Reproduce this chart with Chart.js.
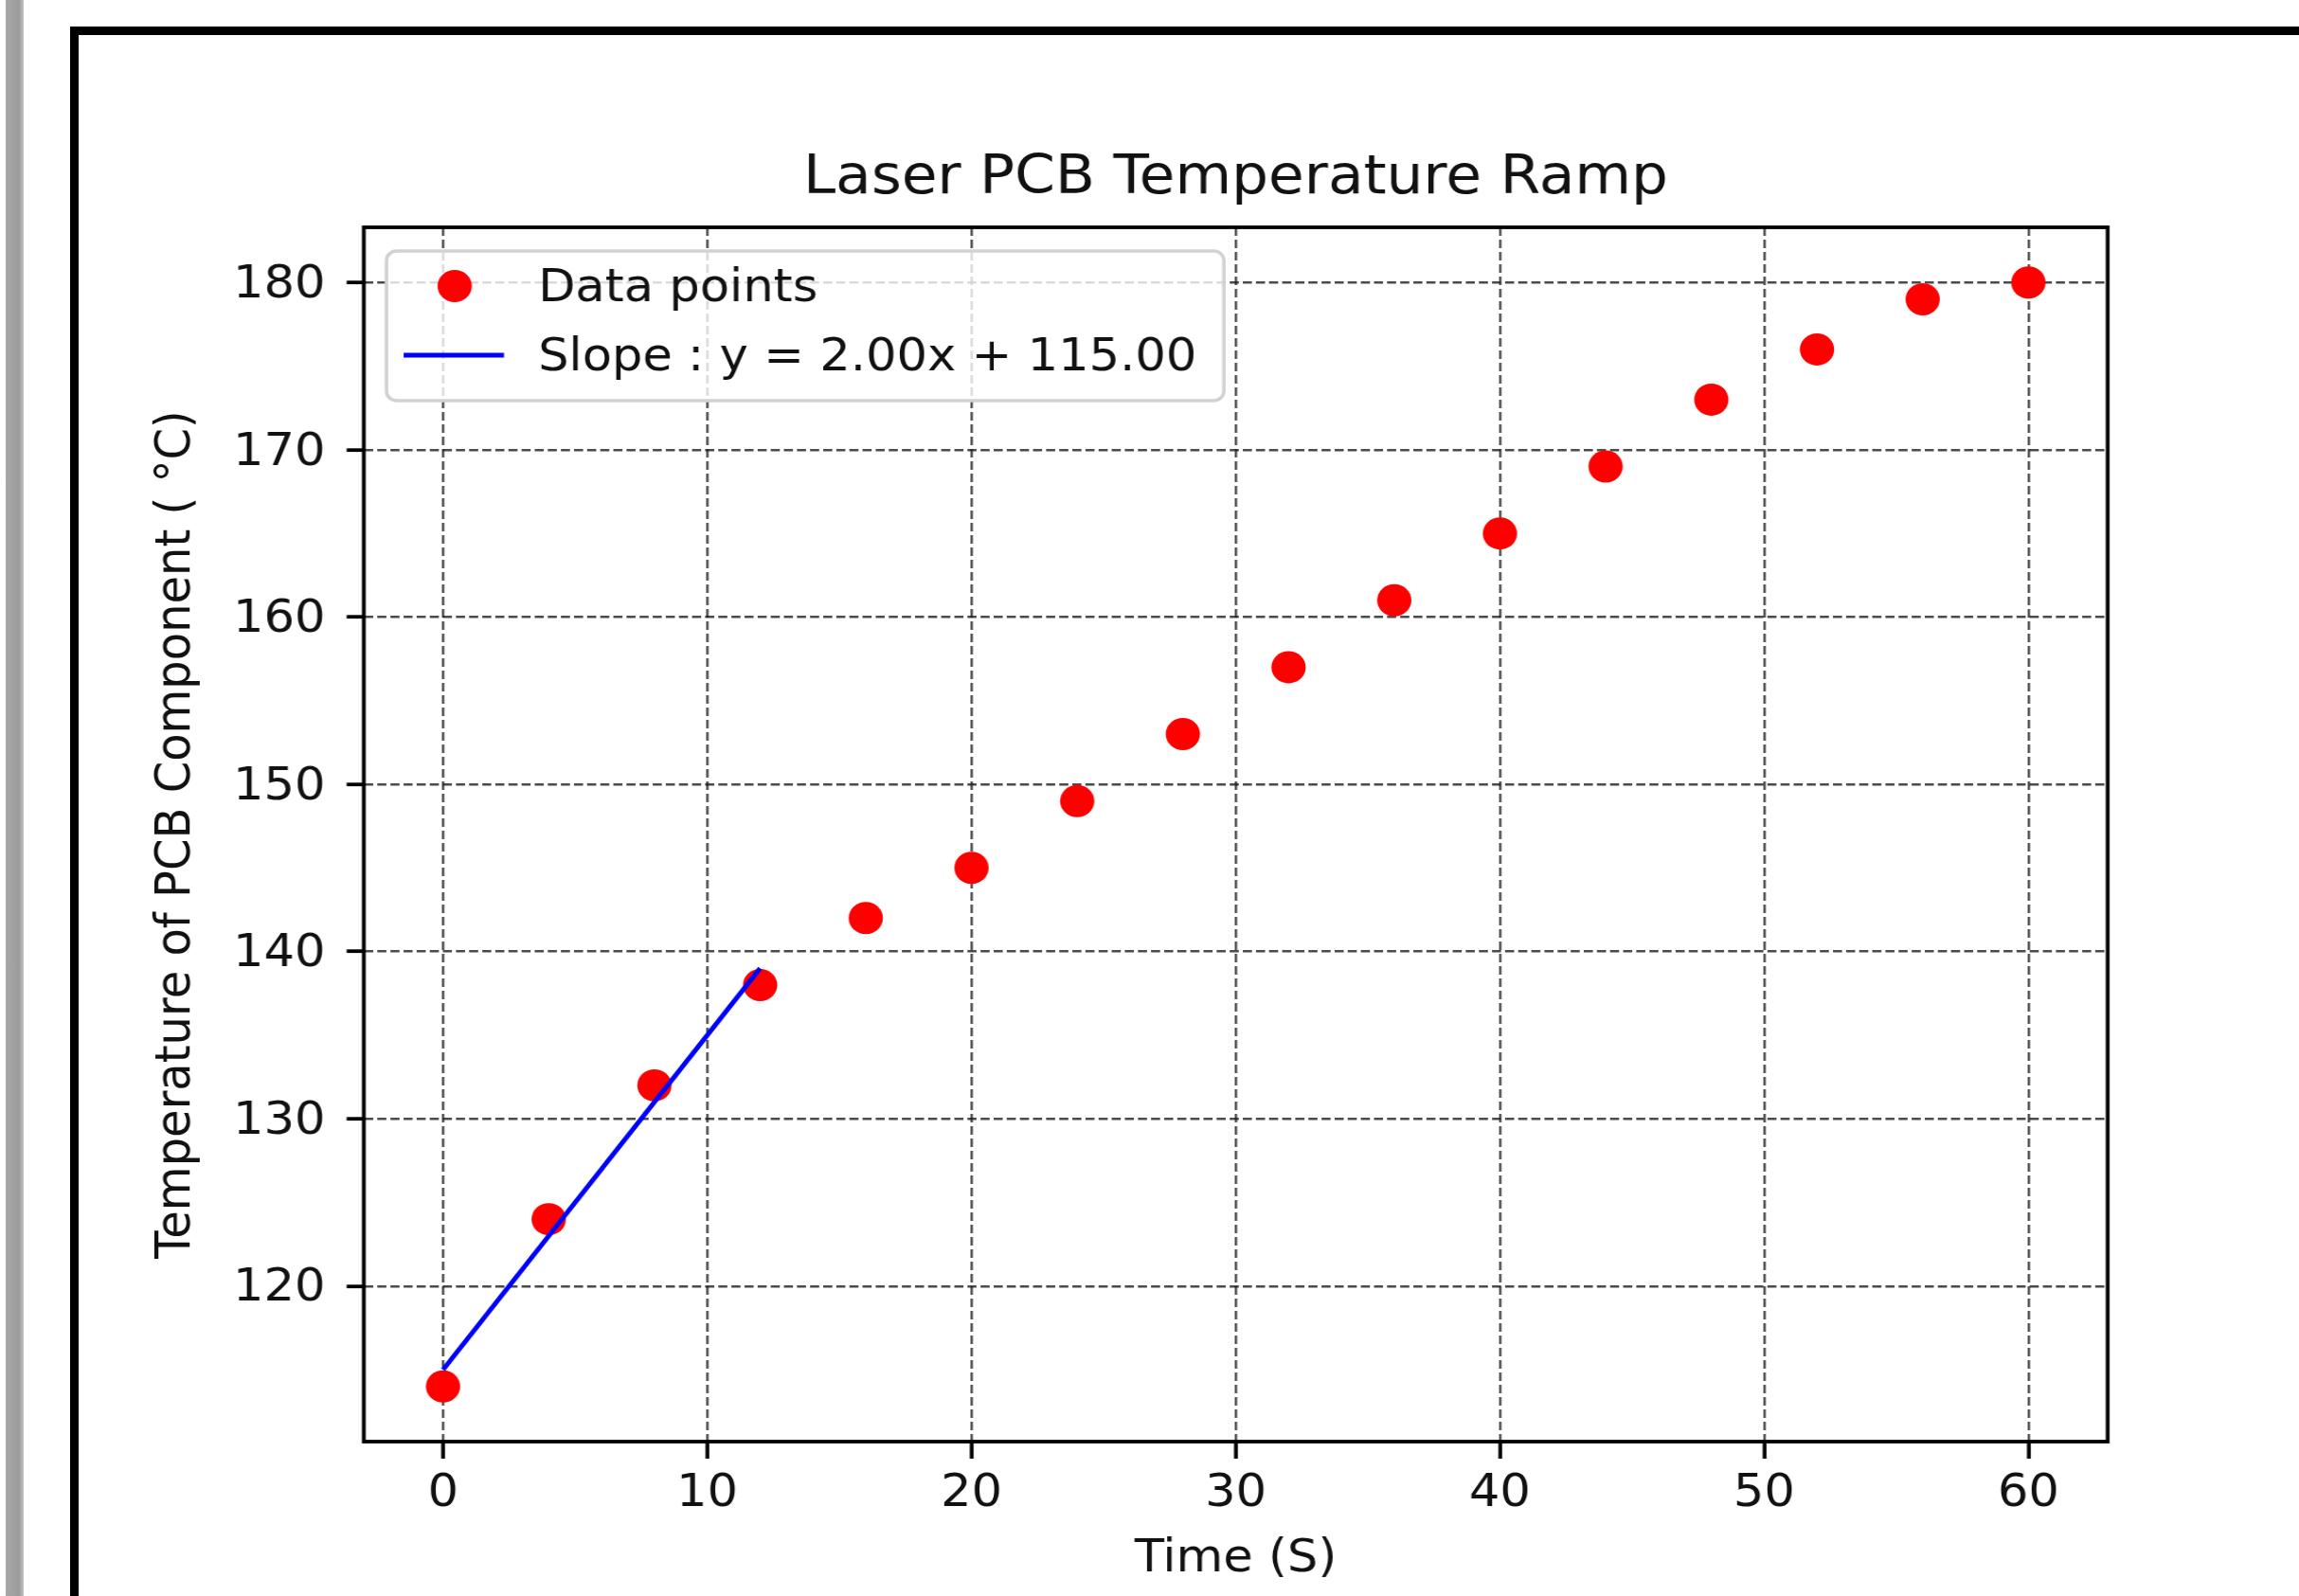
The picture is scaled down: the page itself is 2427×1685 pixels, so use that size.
<!DOCTYPE html>
<html>
<head>
<meta charset="utf-8">
<script src="https://cdn.jsdelivr.net/npm/chart.js@4.4.1/dist/chart.umd.min.js"></script>
<style>
html,body{margin:0;padding:0;background:#fff;}
#wrap{position:relative;width:2427px;height:1685px;overflow:hidden;background:#fff;}
#bar{position:absolute;left:6px;top:0;width:19px;height:1685px;background:linear-gradient(to right,#a8a8a8,#9c9c9c 75%,#c4c4c4);}
#frame{position:absolute;left:74px;top:28px;width:2500px;height:1800px;border-left:9px solid #000;border-top:9px solid #000;}
#c{position:absolute;left:0;top:0;transform-origin:0 0;transform:scaleX(1.064941);}
</style>
</head>
<body>
<div id="wrap">
  <canvas id="c" width="2279" height="1685"></canvas>
  <div id="bar"></div>
  <div id="frame"></div>
</div>
<script>
// ---- data ----
const timeS = [0, 4, 8, 12, 16, 20, 24, 28, 32, 36, 40, 44, 48, 52, 56, 60];
const tempC = [114, 124, 132, 138, 142, 145, 149, 153, 157, 161, 165, 169, 173, 176, 179, 180];
const fitX = [0, 12];
const fitY = [115, 139];
const xTickValues = [0, 10, 20, 30, 40, 50, 60];
const yTickValues = [120, 130, 140, 150, 160, 170, 180];
const titleText = 'Laser PCB Temperature Ramp';
const xLabel = 'Time (S)';
const yLabel = 'Temperature of PCB Component ( \u00B0C)';
const seriesLabels = ['Data points', 'Slope : y = 2.00x + 115.00'];

const F = "'DejaVu Sans', sans-serif";
const FS = 48;

const framePlugin = {
  id: 'frame',
  afterDatasetsDraw(chart) {
    const {ctx, chartArea: a} = chart;
    ctx.save();
    ctx.strokeStyle = '#000';
    ctx.lineWidth = 3.8;
    ctx.strokeRect(a.left, a.top, a.right - a.left, a.bottom - a.top);
    ctx.restore();
  }
};

const legendPlugin = {
  id: 'boxLegend',
  afterDraw(chart) {
    const {ctx, chartArea: a} = chart;
    const ds = chart.data.datasets;
    ctx.save();
    ctx.font = FS + 'px ' + F;
    const maxW = Math.max(...ds.map(d => ctx.measureText(d.label).width));
    const x0 = a.left + 22.5, y0 = a.top + 25;
    const textX = x0 + 150.3;
    const w = (textX - x0) + maxW + 26.8;
    const h = 158;
    const r = 10;
    ctx.beginPath();
    ctx.moveTo(x0 + r, y0);
    ctx.lineTo(x0 + w - r, y0);
    ctx.arcTo(x0 + w, y0, x0 + w, y0 + r, r);
    ctx.lineTo(x0 + w, y0 + h - r);
    ctx.arcTo(x0 + w, y0 + h, x0 + w - r, y0 + h, r);
    ctx.lineTo(x0 + r, y0 + h);
    ctx.arcTo(x0, y0 + h, x0, y0 + h - r, r);
    ctx.lineTo(x0, y0 + r);
    ctx.arcTo(x0, y0, x0 + r, y0, r);
    ctx.closePath();
    ctx.fillStyle = 'rgba(255,255,255,0.8)';
    ctx.fill();
    ctx.strokeStyle = '#d2d2d2';
    ctx.lineWidth = 3.5;
    ctx.stroke();
    ds.forEach((d, i) => {
      const cy = y0 + 37 + i * 73;
      if (d.type === 'line') {
        ctx.strokeStyle = d.borderColor;
        ctx.lineWidth = d.borderWidth;
        ctx.beginPath();
        ctx.moveTo(x0 + 17, cy);
        ctx.lineTo(x0 + 116.5, cy);
        ctx.stroke();
      } else {
        ctx.fillStyle = d.backgroundColor;
        ctx.beginPath();
        ctx.arc(x0 + 67.6, cy, d.pointRadius, 0, Math.PI * 2);
        ctx.fill();
      }
      ctx.fillStyle = '#111';
      ctx.textBaseline = 'middle';
      ctx.textAlign = 'left';
      ctx.fillText(d.label, textX, cy + 3.2);
    });
    ctx.restore();
  }
};

const tickFont = {family: F, size: FS, lineHeight: 1};

new Chart(document.getElementById('c').getContext('2d'), {
  type: 'scatter',
  data: {
    datasets: [
      {
        type: 'scatter',
        label: seriesLabels[0],
        data: timeS.map((x, i) => ({x: x, y: tempC[i]})),
        backgroundColor: '#ff0000',
        borderColor: '#ff0000',
        borderWidth: 0,
        pointRadius: 17,
        pointHoverRadius: 17,
        order: 1
      },
      {
        type: 'line',
        label: seriesLabels[1],
        data: fitX.map((x, i) => ({x: x, y: fitY[i]})),
        borderColor: '#0000ff',
        backgroundColor: '#0000ff',
        borderWidth: 4.8,
        pointRadius: 0,
        fill: false,
        tension: 0,
        order: 0
      }
    ]
  },
  options: {
    responsive: false,
    animation: false,
    devicePixelRatio: 1,
    events: [],
    layout: {padding: {left: 0, top: 0, right: 189.7, bottom: 0}},
    plugins: {
      legend: {display: false},
      tooltip: {enabled: false},
      title: {
        display: true,
        text: titleText,
        fullSize: false,
        color: '#111',
        font: {family: F, size: 57.6, weight: 'normal', lineHeight: 1},
        padding: {top: 160.1, bottom: 22.3}
      }
    },
    scales: {
      x: {
        type: 'linear',
        position: 'bottom',
        min: -3,
        max: 63,
        afterBuildTicks: s => { s.ticks = xTickValues.map(v => ({value: v})); },
        afterFit: s => { s.height = 163; },
        grid: {
          display: true,
          color: 'rgba(30,30,30,0.8)',
          lineWidth: 2.4,
          drawTicks: true,
          tickLength: 18,
          tickWidth: 3.8,
          tickColor: '#000',
          tickBorderDash: []
        },
        border: {display: false, dash: [9, 4]},
        ticks: {color: '#111', font: tickFont, padding: 14, maxRotation: 0, autoSkip: false},
        title: {display: true, text: xLabel, color: '#111', font: {family: F, size: FS, lineHeight: 1}, padding: {top: 0, bottom: 14.8}}
      },
      y: {
        type: 'linear',
        position: 'left',
        min: 110.7,
        max: 183.3,
        afterBuildTicks: s => { s.ticks = yTickValues.map(v => ({value: v})); },
        afterFit: s => { s.width = 360.6; },
        grid: {
          display: true,
          color: 'rgba(30,30,30,0.8)',
          lineWidth: 2.4,
          drawTicks: true,
          tickLength: 17,
          tickWidth: 3.8,
          tickColor: '#000',
          tickBorderDash: []
        },
        border: {display: false, dash: [9, 4]},
        ticks: {color: '#111', font: tickFont, padding: 21, labelOffset: 3.2, autoSkip: false},
        title: {display: true, text: yLabel, color: '#111', font: {family: F, size: FS, lineHeight: 1}, padding: {top: 152, bottom: 0}}
      }
    }
  },
  plugins: [framePlugin, legendPlugin]
});
</script>
</body>
</html>
